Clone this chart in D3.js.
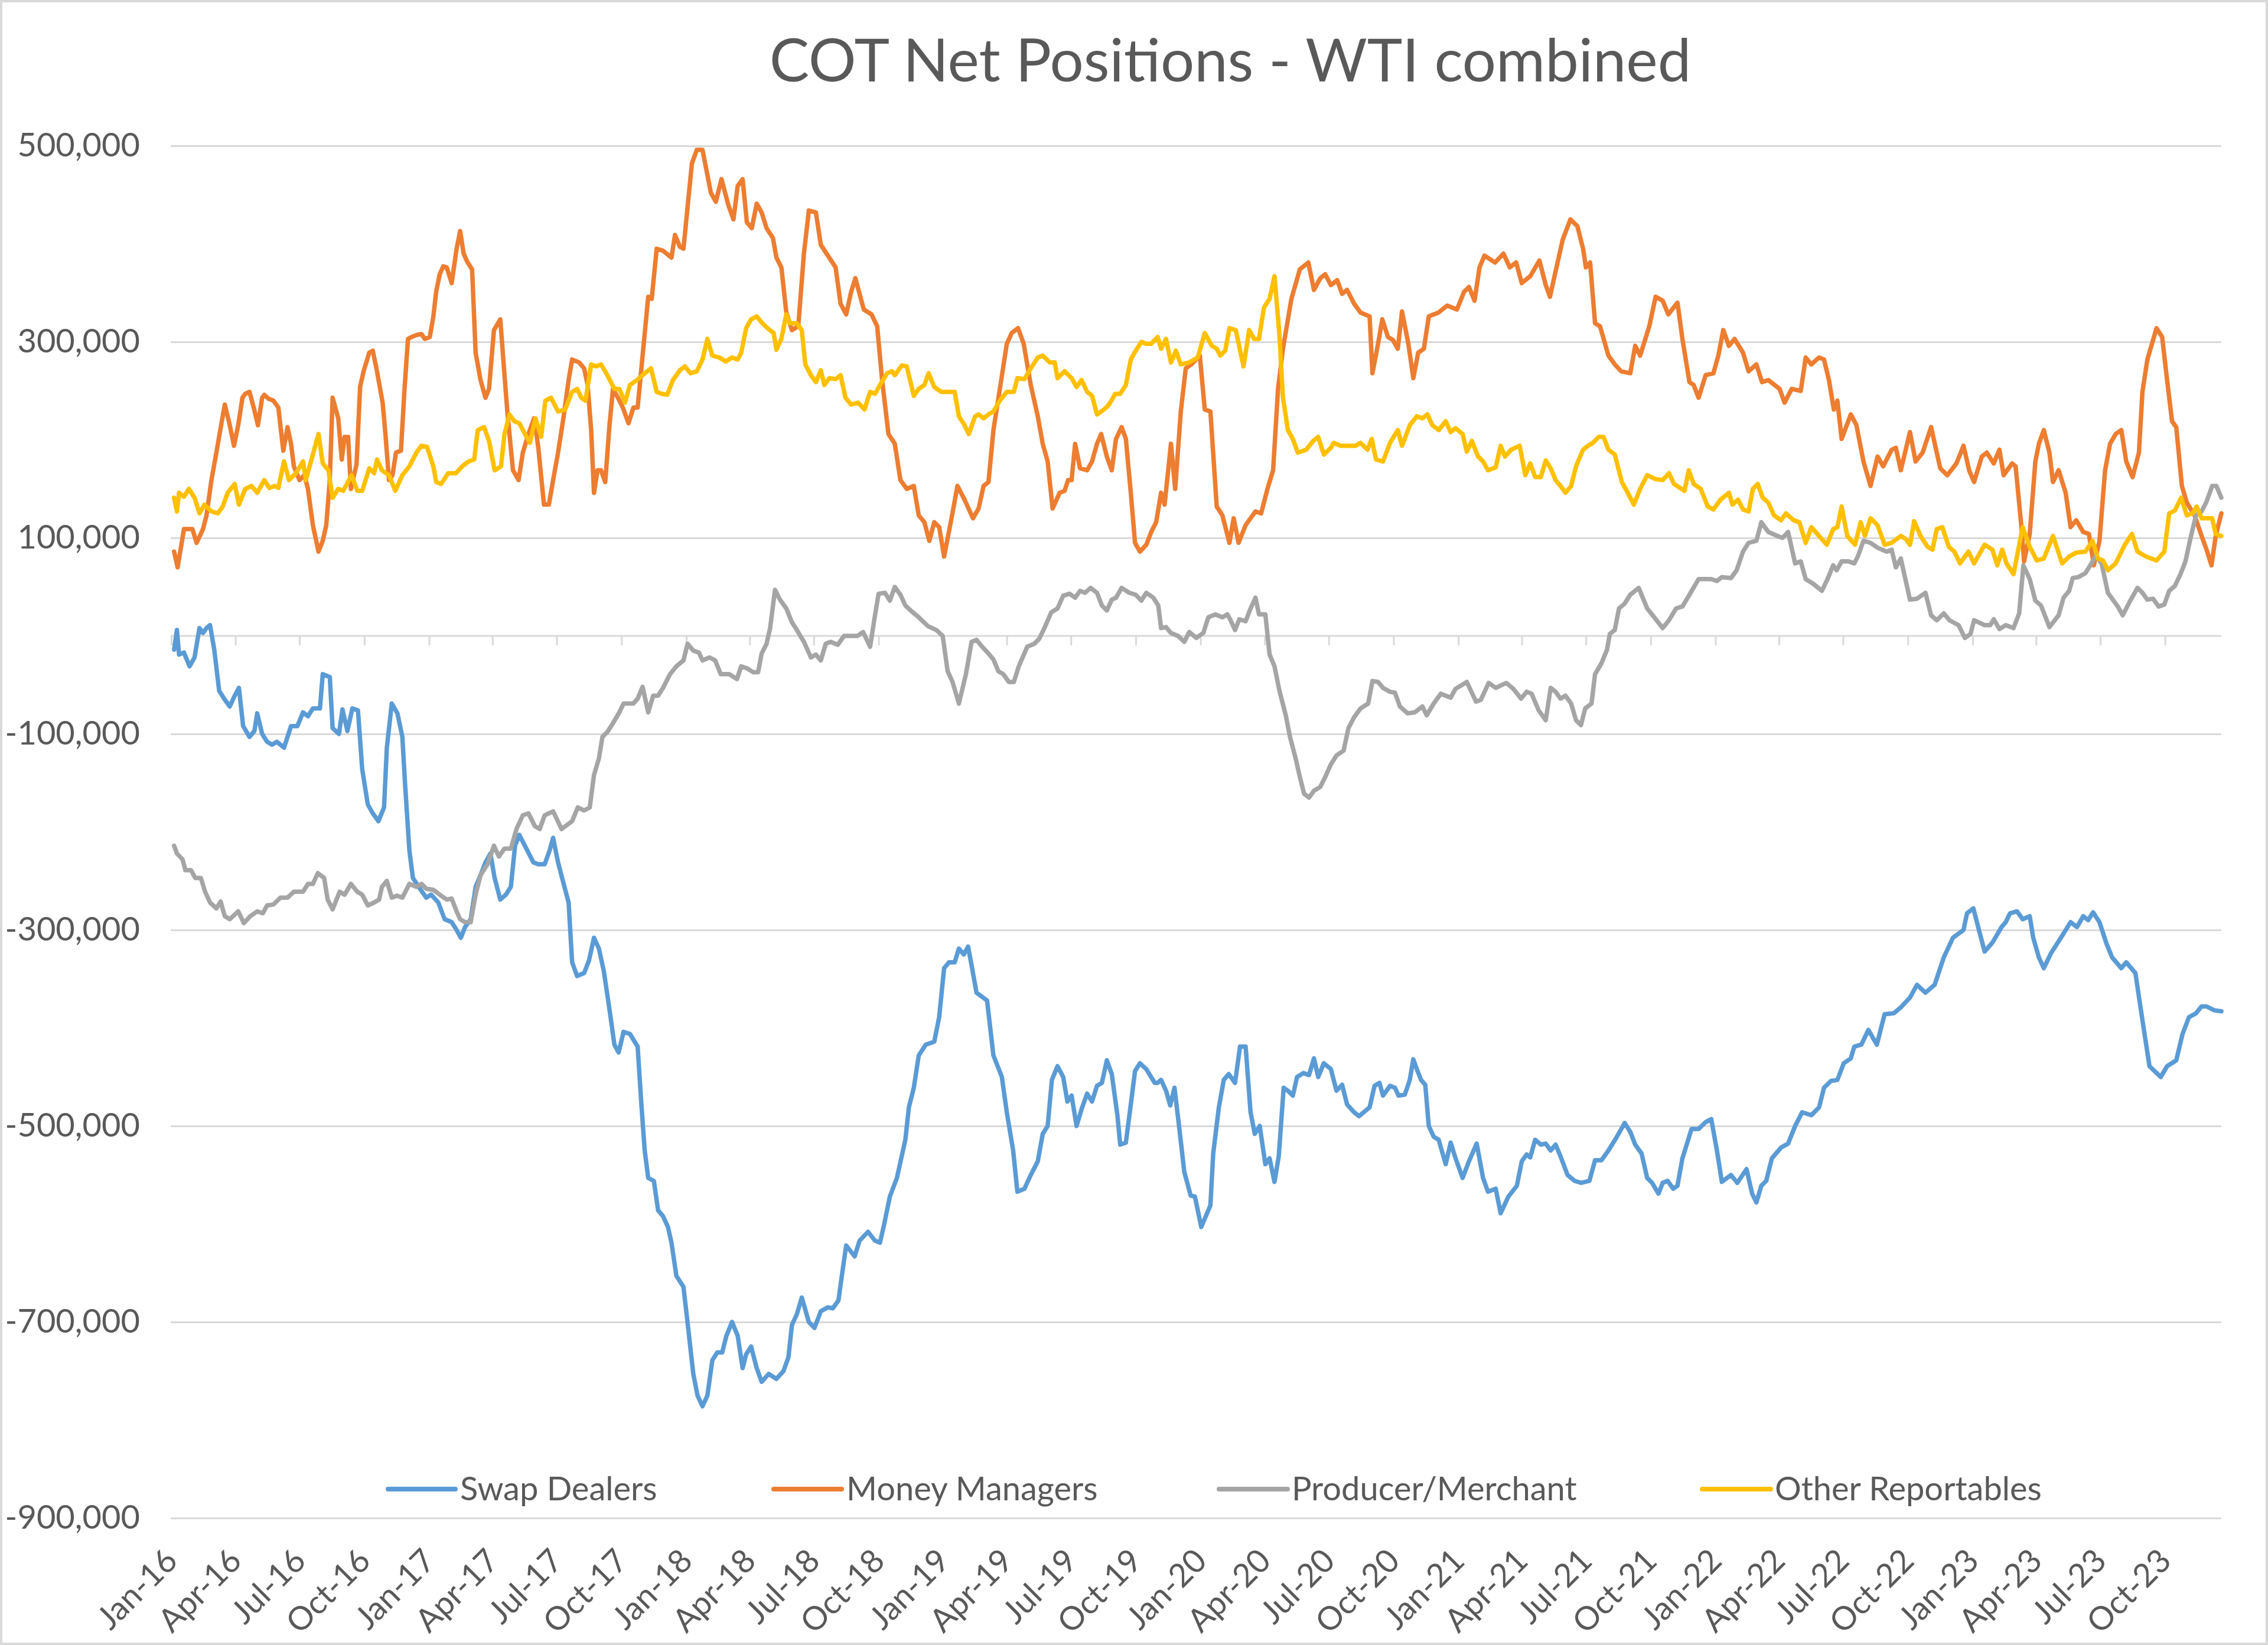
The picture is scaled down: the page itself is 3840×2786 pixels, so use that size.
<!DOCTYPE html>
<html>
<head>
<meta charset="utf-8">
<script src="https://cdn.jsdelivr.net/npm/d3@7"></script>
<style>
  html, body { margin: 0; padding: 0; background: #ffffff; }
  svg { display: block; }
  text { font-family: Lato, "Open Sans", "DejaVu Sans", sans-serif; }
</style>
</head>
<body>
<svg id="chart" width="3840" height="2786"></svg>
<script>
// ---------------- DATA ----------------
// Each point: [weeks since first report (5 Jan 2016), net position in thousands of contracts]
const chartTitle = "COT Net Positions - WTI combined";
const seriesNames = ["Swap Dealers", "Money Managers", "Producer/Merchant", "Other Reportables"];
const yTickValues = [500000, 300000, 100000, -100000, -300000, -500000, -700000, -900000];
const xTickFormat = "%b-%y";

const swapDealers = [
[0,-14],[0.6,6],[1.0,-19],[2.0,-17],[3.2,-31],[4.1,-22],[5.1,8],[5.8,3],[6.6,8],[7.3,11],[8.2,-14],[9.2,-56],[10.2,-64],[11.3,-72],[12.3,-61],[13.1,-53],[14.0,-92],[15.3,-103],[16.3,-97],[16.9,-79],[17.8,-100],[18.8,-108],[19.9,-111],[20.9,-108],[22.3,-114],[23.7,-92],[25.0,-92],[26.1,-78],[27.1,-82],[28.1,-74],[29.5,-74],[30.2,-39],[31.6,-42],[32.2,-94],[33.4,-100],[34.1,-75],[35.2,-97],[36.2,-74],[37.3,-76],[38.1,-136],[39.3,-172],[40.3,-181],[41.4,-189],[42.6,-175],[43.2,-114],[44.1,-69],[45.3,-79],[46.3,-103],[46.9,-153],[47.7,-219],[48.4,-247],[49.8,-258],[51.1,-267],[52.2,-264],[53.5,-272],[54.9,-289],[56.3,-292],[57.3,-300],[58.2,-308],[59.0,-297],[60.1,-289],[61.1,-256],[62.1,-244],[63.2,-231],[64.2,-222],[65.0,-247],[66.1,-269],[67.3,-264],[68.3,-256],[69.2,-214],[70.0,-203],[71.4,-217],[72.8,-231],[73.8,-233],[75.2,-233],[76.2,-219],[76.9,-206],[77.9,-231],[79.0,-253],[80.0,-272],[80.7,-333],[81.7,-347],[83.1,-344],[84.1,-331],[85.2,-308],[86.2,-319],[87.2,-342],[88.3,-381],[89.3,-417],[90.2,-425],[91.1,-404],[92.4,-406],
[94.0,-419],[94.7,-475],[95.4,-525],[96.2,-553],[97.3,-556],[98.1,-586],[99.2,-592],[100.2,-603],[100.9,-619],[101.9,-653],[103.3,-664],[104.3,-708],[105.3,-753],[106.2,-775],[107.2,-786],[108.1,-775],[109.1,-739],[110.2,-731],[111.2,-731],[112.0,-714],[113.2,-700],[114.3,-714],[115.3,-747],[116.0,-733],[117.0,-725],[118.1,-747],[119.1,-761],[120.5,-753],[122.2,-758],[123.6,-750],[124.6,-736],[125.3,-703],[126.3,-692],[127.3,-675],[128.7,-700],[129.9,-706],[131.1,-689],[132.5,-685],[133.5,-686],[134.7,-678],[135.6,-647],[136.3,-622],[138.0,-633],[139.0,-617],[140.7,-608],[142.1,-617],[143.1,-619],[144.0,-600],[145.2,-572],[146.6,-553],[148.3,-514],[149.0,-481],[150.0,-461],[151.0,-428],[152.4,-417],[154.1,-414],[155.2,-389],[156.2,-339],[157.2,-333],[158.3,-333],[159.2,-319],[160.1,-325],[161.0,-317],[161.7,-336],[162.7,-364],[164.8,-372],[166.2,-428],[167.9,-450],[168.9,-486],[170.2,-525],[171.0,-567],[172.4,-564],[173.7,-550],[175.1,-536],[176.1,-508],[177.2,-500],[178.0,-453],[179.1,-439],[180.3,-450],[181.1,-475],[182.0,-469],[183.0,-500],[184.2,-481],[185.1,-467],[186.1,-475],[187.1,-459],[188.2,-456],[189.2,-433],[190.1,-447],[191.3,-489],[191.9,-519],[193.0,-517],[194.0,-478],[194.9,-444],[195.9,-436],[197.1,-442],[198.8,-456],
[199.4,-456],[200.2,-453],[201.1,-464],[202.0,-479],[202.8,-461],[203.7,-497],[204.9,-547],[206.1,-571],[207.0,-572],[208.3,-603],[210.1,-581],[210.7,-528],[211.8,-481],[212.8,-453],[213.8,-447],[215.2,-456],[216.2,-419],[217.3,-419],[218.3,-486],[219.2,-508],[220.2,-500],[221.3,-539],[222.2,-533],[223.1,-557],[224.0,-531],[225.0,-461],[225.9,-464],[226.9,-469],[227.7,-450],[229.0,-446],[230.2,-448],[231.2,-431],[232.0,-450],[233.1,-436],[234.5,-442],[235.7,-464],[236.9,-458],[237.9,-478],[239.3,-486],[240.3,-490],[242.4,-481],[243.4,-459],[244.4,-456],[245.1,-469],[246.5,-459],[247.5,-461],[248.3,-469],[249.6,-468],[250.6,-453],[251.3,-432],[252.0,-442],[252.9,-453],[253.7,-458],[254.4,-500],[255.4,-511],[256.4,-514],[257.8,-539],[258.9,-517],[259.9,-533],[261.3,-553],[262.6,-536],[264.1,-518],[265.4,-553],[266.4,-567],[268.0,-564],[269.0,-589],[270.5,-572],[272.3,-561],[273.3,-536],[274.3,-529],[275.0,-532],[276.0,-514],[277.1,-519],[278.1,-518],[279.1,-525],[280.2,-519],[281.2,-531],[282.6,-550],[284.0,-556],[285.3,-558],[287.0,-556],[288.1,-535],[289.4,-535],[290.8,-525],[292.5,-511],[294.1,-497],[295.3,-506],[296.3,-519],[297.5,-528],[298.7,-553],[299.7,-558],[301.0,-569],[301.9,-558],[302.8,-556],[304.0,-564],
[304.8,-561],[305.9,-533],[307.7,-503],[309.2,-503],[310.6,-496],[311.7,-493],[312.8,-525],[313.9,-557],[315.7,-550],[317.0,-558],[318.9,-544],[320.0,-569],[320.9,-578],[321.9,-561],[322.9,-556],[324.0,-533],[325.8,-522],[327.3,-518],[328.7,-500],[330.2,-486],[332.0,-489],[333.5,-481],[334.6,-461],[336.0,-454],[337.3,-453],[338.5,-436],[340.0,-431],[340.7,-419],[342.2,-417],[343.6,-402],[345.3,-417],[346.9,-386],[348.7,-385],[350.2,-379],[352.0,-369],[353.4,-356],[355.2,-364],[357.0,-356],[358.9,-328],[360.7,-308],[362.9,-300],[363.6,-283],[364.9,-278],[366.1,-303],[367.2,-322],[368.7,-313],[370.5,-297],[371.4,-292],[372.3,-283],[373.7,-281],[374.8,-289],[376.3,-286],[377.0,-308],[378.1,-328],[379.2,-339],[380.6,-324],[382.8,-306],[384.6,-292],[385.9,-297],[387.2,-286],[388.1,-290],[389.1,-282],[390.4,-292],[391.9,-314],[393.0,-328],[394.8,-339],[395.9,-333],[397.7,-344],[399.1,-392],[400.6,-439],[402.8,-450],[404.2,-439],[406.0,-433],[407.3,-406],[408.6,-389],[410.0,-385],[411.1,-378],[412.2,-378],[413.7,-382],[415.1,-383]
];

const moneyManagers = [
[0,86],[0.7,70],[2.0,109],[3.7,109],[4.5,95],[5.8,109],[6.6,123],[7.5,159],[8.5,187],[9.6,216],[10.3,236],[11.3,215],[12.2,194],[13.0,215],[13.9,243],[14.4,247],[15.3,249],[16.1,233],[17.0,215],[17.8,243],[18.3,246],[19.2,242],[20.2,240],[21.2,233],[22.1,189],[23.0,213],[23.7,196],[24.3,173],[25.4,159],[26.4,164],[27.1,150],[28.1,113],[29.3,86],[30.2,97],[30.9,113],[31.6,159],[32.2,243],[33.3,222],[34.0,180],[34.6,203],[35.3,203],[35.8,150],[36.5,166],[37.0,175],[37.7,254],[38.4,270],[39.5,289],[40.3,291],[41.2,270],[42.3,238],[42.9,206],[43.6,159],[44.3,164],[45.0,187],[46.0,189],[46.7,251],[47.4,303],[48.1,305],[49.1,307],[50.1,308],[50.8,303],[51.8,305],[52.5,326],[53.1,351],[53.8,369],[54.6,377],[55.3,376],[56.3,360],[57.3,395],[58.0,413],[58.7,390],[59.4,382],[60.4,374],[61.1,289],[62.1,261],[63.2,243],[63.9,252],[64.9,312],[66.1,323],[67.0,266],[67.6,229],[68.7,169],[69.8,159],[70.7,187],[71.8,206],[73.0,222],[73.8,192],[75.0,134],[76.0,134],[76.9,159],[77.9,187],[79.0,224],[80.0,261],[80.7,282],[82.1,279],[83.1,273],[83.8,256],[84.5,210],[85.2,146],[85.9,169],[86.5,169],[87.4,157],[88.3,215],[89.0,252],[90.0,243],[91.0,233],[92.2,217],[93.1,233],
[94.0,233],[96.1,346],[96.9,344],[97.9,395],[99.2,393],[100.9,386],[101.6,409],[102.6,397],[103.3,395],[105.0,482],[106.0,496],[107.1,496],[108.8,452],[109.9,443],[111.0,466],[112.4,439],[113.4,425],[114.3,459],[115.3,466],[116.1,422],[117.2,416],[118.1,441],[119.1,432],[120.1,416],[121.4,406],[122.2,386],[123.2,376],[124.2,330],[125.3,312],[126.6,316],[127.7,390],[128.7,434],[130.1,432],[131.1,399],[132.5,388],[134.2,376],[135.2,339],[136.3,328],[137.3,351],[138.1,365],[139.9,333],[141.4,328],[142.5,316],[143.5,261],[144.9,206],[146.2,196],[147.3,159],[148.6,150],[150.0,153],[151.0,123],[152.1,116],[153.1,97],[154.1,116],[155.2,111],[156.2,81],[157.6,118],[158.9,153],[160.3,139],[162.0,120],[163.1,130],[164.1,153],[165.1,157],[166.2,210],[167.5,256],[168.9,298],[169.9,309],[171.1,314],[172.3,298],[173.7,256],[175.1,224],[176.1,196],[177.2,178],[178.2,130],[179.6,146],[180.5,148],[181.3,159],[182.0,159],[182.7,196],[183.7,171],[185.1,169],[186.1,178],[187.1,196],[188.0,206],[189.2,183],[190.2,169],[191.0,201],[192.1,213],[193.0,201],[194.0,146],[194.9,95],[195.9,86],[197.1,93],[198.1,106],[199.2,116],
[200.1,146],[200.8,134],[202.1,196],[203.0,150],[204.2,229],[205.2,273],[206.3,277],[208.0,286],[209.0,231],[210.1,229],[211.4,132],[212.5,123],[214.0,95],[214.9,120],[215.9,95],[217.3,113],[219.3,127],[220.4,125],[221.7,150],[222.8,169],[223.8,252],[224.8,293],[226.5,344],[228.3,374],[230.0,381],[231.2,353],[232.4,365],[233.4,369],[234.5,358],[235.8,363],[236.9,349],[237.9,353],[239.3,339],[240.6,330],[242.4,326],[243.0,268],[244.1,298],[245.0,323],[246.1,305],[247.2,302],[248.2,293],[249.0,331],[250.3,298],[251.3,263],[252.3,289],[253.4,293],[254.4,326],[256.4,330],[258.2,337],[260.2,333],[261.6,351],[262.6,356],[263.7,342],[264.7,376],[265.7,388],[267.8,381],[269.5,390],[270.9,376],[272.2,381],[273.3,360],[275.0,367],[276.9,383],[278.1,358],[279.0,346],[280.2,372],[281.5,404],[283.1,425],[284.6,418],[285.7,395],[286.3,376],[287.2,381],[288.1,319],[289.1,316],[290.8,286],[292.2,277],[293.4,270],[295.3,268],[296.3,296],[297.3,286],[299.1,316],[300.4,346],[301.8,342],[303.0,328],
[304.8,340],[305.9,303],[307.3,259],[308.1,256],[309.2,243],[310.6,266],[312.1,268],[313.1,286],[314.2,312],[315.3,296],[316.4,303],[318.2,289],[319.3,270],[320.8,277],[322.0,259],[323.3,261],[325.5,252],[326.6,238],[328.0,252],[329.8,250],[330.9,284],[332.0,277],[333.5,284],[334.6,282],[335.6,261],[336.5,231],[337.3,240],[338.2,201],[340.0,226],[341.1,215],[342.5,178],[344.0,153],[345.4,183],[346.5,173],[348.3,190],[349.2,192],[350.2,169],[352.0,208],[353.1,178],[354.5,187],[356.3,213],[358.1,171],[359.6,164],[361.4,176],[362.9,194],[364.0,169],[365.0,157],[366.5,183],[367.6,187],[369.0,176],[370.1,190],[371.0,164],[372.7,176],[373.4,173],[374.5,113],[375.2,76],[376.3,104],[377.4,178],[378.2,196],[379.2,210],[380.3,187],[381.0,157],[382.1,169],[383.5,146],[384.6,111],[385.7,118],[387.2,106],[388.3,104],[389.3,72],[390.4,97],[391.5,169],[392.6,196],[393.7,206],[394.8,210],[395.9,178],[397.1,162],[398.4,187],[399.1,249],[400.2,282],[402.0,314],[403.1,305],[404.2,261],[405.1,219],[406.0,213],[407.1,153],[408.2,136],[409.7,123],[411.1,102],[412.2,88],[413.1,72],[414.0,102],[415.1,125]
];

const producerMerchant = [
[0,-214],[0.5,-222],[1.7,-228],[2.3,-239],[3.4,-239],[4.3,-247],[5.4,-247],[6.3,-261],[7.3,-272],[8.5,-278],[9.4,-271],[10.3,-286],[11.3,-289],[13.0,-281],[14.2,-293],[15.4,-286],[16.8,-281],[18.0,-283],[18.8,-275],[20.2,-274],[21.6,-267],[23.0,-267],[24.3,-261],[26.1,-261],[27.1,-253],[28.1,-253],[29.1,-242],[30.4,-247],[31.2,-269],[32.2,-279],[33.6,-261],[34.6,-264],[35.9,-253],[37.1,-261],[38.1,-264],[39.3,-275],[40.5,-272],[41.5,-269],[42.1,-256],[43.2,-250],[44.1,-267],[45.1,-265],[46.3,-267],[47.7,-253],[49.1,-256],[50.1,-253],[51.1,-258],[52.5,-259],[53.9,-264],[55.3,-269],[56.3,-268],[57.3,-281],[58.0,-289],[59.0,-292],[60.2,-292],[61.1,-264],[62.1,-244],[63.5,-233],[64.9,-214],[65.9,-225],[67.0,-217],[68.3,-217],[69.4,-197],[70.7,-183],[71.8,-181],[73.1,-194],[74.2,-197],[75.2,-183],[76.9,-179],[78.6,-197],[80.7,-189],[81.9,-175],[83.1,-178],[84.3,-175],[85.2,-142],[86.2,-125],[86.9,-103],[87.9,-98],[89.0,-89],[90.3,-78],[91.1,-69],[92.4,-69],[93.1,-69],
[94.0,-64],[95.0,-52],[96.1,-78],[97.1,-61],[98.1,-61],[99.2,-53],[100.5,-39],[101.9,-31],[103.3,-25],[104.2,-8],[105.3,-15],[106.4,-17],[107.2,-25],[108.6,-22],[109.7,-25],[110.8,-39],[112.6,-39],[114.1,-44],[115.0,-31],[116.1,-33],[117.4,-37],[118.4,-37],[119.1,-18],[120.1,-8],[120.8,8],[121.8,47],[122.9,37],[124.2,28],[125.3,14],[126.3,6],[127.7,-6],[129.1,-22],[130.1,-19],[131.1,-25],[132.1,-8],[133.2,-6],[134.5,-9],[135.9,0],[137.3,0],[138.5,0],[139.7,4],[141.1,-11],[142.0,17],[142.9,43],[144.2,44],[145.2,36],[146.2,50],[147.3,42],[148.3,31],[149.5,25],[151.0,19],[152.8,10],[154.5,6],[155.9,0],[156.9,-36],[157.9,-47],[159.2,-69],[160.5,-39],[161.7,-6],[162.7,-4],[163.8,-11],[165.1,-18],[166.2,-24],[167.2,-36],[168.2,-39],[169.3,-47],[170.3,-47],[171.3,-31],[173.0,-11],[174.4,-8],[175.4,-3],[176.5,9],[177.8,24],[179.2,28],[180.3,41],[181.6,43],[182.7,39],[183.7,46],[184.7,44],[185.8,49],[187.1,44],[188.2,31],[189.2,26],[190.1,37],[191.0,39],[192.1,49],[193.7,44],[195.0,42],[196.1,36],[197.1,44],[198.5,39],[199.5,31],
[200.1,8],[201.1,9],[202.1,3],[203.5,0],[204.9,-6],[205.9,4],[207.3,-2],[208.7,3],[209.7,19],[211.1,22],[212.5,19],[213.5,22],[214.2,17],[215.1,6],[216.0,17],[217.3,15],[218.3,28],[219.3,39],[220.0,22],[221.3,22],[222.1,-19],[223.1,-31],[224.1,-56],[225.4,-81],[226.3,-103],[227.4,-125],[228.3,-144],[229.1,-161],[230.1,-165],[231.2,-158],[232.4,-154],[233.4,-144],[234.5,-131],[235.7,-122],[237.1,-117],[238.2,-94],[239.3,-83],[240.6,-74],[242.2,-69],[243.0,-46],[244.1,-47],[245.1,-53],[246.5,-57],[247.5,-58],[248.5,-72],[250.1,-79],[251.6,-78],[253.1,-72],[254.0,-81],[255.4,-69],[256.8,-59],[257.8,-61],[258.9,-63],[259.9,-54],[262.1,-47],[264.0,-67],[265.0,-65],[266.6,-48],[268.0,-53],[270.2,-48],[271.6,-54],[273.1,-64],[274.3,-57],[275.3,-59],[276.7,-76],[278.1,-86],[279.1,-53],[280.2,-57],[281.2,-64],[282.2,-61],[283.3,-69],[284.3,-86],[285.3,-91],[286.1,-74],[287.4,-69],[288.1,-39],[289.4,-28],[290.5,-14],[291.2,2],[292.2,6],[293.0,28],[294.2,33],[295.3,42],[297.0,49],[298.7,28],[300.1,19],[301.8,8],[303.2,16],[304.6,28],
[305.9,30],[307.3,42],[309.2,58],[311.7,58],[312.8,56],[313.9,60],[315.7,59],[316.8,67],[318.2,86],[319.3,95],[320.8,97],[321.9,116],[323.3,106],[325.1,102],[326.2,100],[327.3,106],[328.7,74],[329.8,76],[330.9,58],[332.4,53],[334.2,46],[335.3,58],[336.4,72],[337.1,67],[338.2,76],[339.6,76],[340.7,74],[341.4,81],[342.5,97],[344.0,95],[345.4,90],[347.3,86],[348.3,88],[349.1,70],[350.2,79],[352.0,37],[353.4,38],[355.2,44],[356.3,21],[357.4,16],[358.9,23],[360.0,16],[361.8,11],[363.2,-2],[364.3,2],[365.0,16],[367.2,11],[368.3,11],[369.0,17],[370.1,7],[371.4,11],[373.0,8],[374.1,23],[375.0,72],[376.3,58],[377.4,36],[378.5,31],[380.3,9],[382.1,21],[383.2,39],[384.3,46],[385.0,59],[386.1,60],[387.5,64],[388.6,72],[389.7,82],[390.8,74],[392.2,44],[394.1,30],[395.1,21],[396.6,35],[398.1,49],[399.1,44],[400.2,37],[401.3,38],[402.4,30],[403.5,32],[404.6,46],[405.7,51],[406.8,63],[407.8,76],[408.9,99],[410.0,123],[411.1,127],[412.2,137],[413.3,153],[414.2,153],[415.1,141]
];

const otherReportables = [
[0,141],[0.5,127],[1.0,146],[2.0,142],[3.0,150],[4.1,141],[5.1,125],[6.1,134],[7.5,127],[8.9,125],[9.9,132],[10.9,146],[12.3,155],[13.2,134],[14.4,150],[15.7,153],[16.9,146],[18.3,159],[19.3,151],[20.4,153],[21.2,151],[22.3,178],[23.3,159],[24.7,166],[26.1,178],[26.7,159],[27.9,180],[29.3,206],[30.2,176],[31.3,169],[32.2,141],[33.3,150],[34.3,148],[36.0,164],[37.1,148],[38.1,148],[39.5,171],[40.5,166],[41.2,180],[42.2,169],[43.6,164],[44.8,148],[46.3,164],[47.7,173],[49.1,187],[50.1,194],[51.3,193],[52.5,173],[53.2,157],[54.2,155],[55.6,166],[57.2,166],[58.4,173],[59.7,178],[60.8,180],[61.5,210],[62.8,213],[63.9,199],[65.0,169],[66.3,173],[67.0,206],[68.0,226],[69.0,219],[70.0,217],[71.1,206],[72.1,197],[73.3,222],[74.4,203],[75.3,240],[76.4,243],[77.9,229],[79.3,231],[80.7,249],[81.7,252],[82.6,243],[83.4,240],[84.5,277],[85.5,275],[86.5,277],[87.9,266],[89.3,252],[90.3,252],[91.4,238],[92.4,256],[93.8,261],
[95.4,268],[96.7,273],[97.8,249],[98.8,247],[100.0,246],[101.2,261],[102.6,271],[103.6,275],[104.7,268],[106.0,270],[107.2,282],[108.1,303],[109.1,286],[110.5,284],[111.9,280],[113.2,284],[114.3,282],[115.0,289],[116.0,314],[117.0,323],[118.1,326],[119.3,319],[120.5,313],[121.5,309],[122.2,292],[123.2,303],[124.1,328],[124.9,319],[126.3,319],[127.3,312],[128.0,277],[129.1,266],[130.1,259],[131.1,271],[131.8,256],[132.8,263],[134.2,262],[135.2,266],[136.1,243],[137.3,236],[138.7,238],[140.0,231],[141.1,249],[142.1,247],[143.1,256],[144.5,268],[145.5,270],[146.2,266],[147.6,276],[148.6,275],[150.0,245],[151.0,252],[152.1,256],[153.0,268],[154.1,254],[155.5,249],[156.9,249],[158.3,249],[159.2,224],[160.3,215],[161.2,206],[162.4,224],[163.1,226],[164.1,222],[165.1,226],[166.2,229],[167.4,240],[168.9,249],[170.3,249],[171.0,263],[172.4,262],[173.7,273],[175.1,284],[176.1,286],[177.5,279],[178.5,279],[179.2,263],[180.6,270],[182.0,263],[183.0,254],[184.0,261],[185.1,249],[186.1,245],[187.1,226],[188.5,231],[189.5,236],[190.9,247],[191.9,247],[193.0,256],[194.0,282],[195.0,291],[196.1,300],[197.1,298],[198.1,298],
[199.4,305],[200.1,293],[201.1,303],[202.1,279],[203.2,291],[204.2,277],[205.9,279],[207.6,284],[209.0,309],[210.4,296],[211.4,293],[212.1,286],[213.1,291],[214.0,314],[215.3,312],[216.9,275],[218.0,312],[219.0,303],[220.0,303],[221.0,335],[222.1,344],[223.1,367],[224.1,307],[224.8,243],[225.9,210],[226.9,201],[227.9,187],[229.6,190],[231.0,199],[232.0,203],[233.1,185],[234.5,192],[235.1,197],[236.5,194],[237.9,194],[239.6,194],[240.6,197],[242.0,190],[242.8,201],[243.7,180],[245.1,178],[246.5,197],[248.1,210],[249.0,194],[250.6,215],[252.0,224],[253.1,222],[254.2,226],[255.1,215],[256.4,210],[257.8,219],[258.9,208],[259.9,212],[261.3,206],[262.1,188],[263.2,199],[264.4,183],[265.4,178],[266.4,169],[268.0,172],[269.0,194],[269.8,183],[271.2,190],[272.9,194],[274.0,164],[275.0,176],[276.0,162],[277.1,162],[278.1,179],[279.1,171],[280.2,159],[281.2,153],[282.2,146],[283.3,153],[284.3,173],[285.7,190],[286.7,194],[287.7,197],[288.8,203],[289.8,203],[290.8,190],[292.2,185],[293.6,157],[294.6,148],[296.0,134],[297.3,150],[298.7,164],[300.4,160],[301.8,159],[303.2,166],[304.2,155],
[306.3,148],[307.1,169],[308.1,155],[309.5,150],[311.0,132],[312.1,129],[313.5,139],[315.3,146],[316.0,134],[317.1,139],[318.2,129],[319.3,127],[320.2,150],[321.1,155],[322.2,141],[323.3,136],[324.4,123],[325.8,118],[326.9,125],[328.4,118],[329.5,116],[330.8,95],[332.0,111],[333.5,102],[335.1,93],[336.4,109],[337.3,111],[338.2,132],[339.3,102],[340.9,93],[342.0,116],[342.9,102],[344.0,120],[345.4,113],[346.9,93],[348.3,95],[350.2,102],[351.2,99],[352.0,93],[352.8,117],[354.1,102],[355.6,91],[356.5,88],[357.4,109],[358.5,111],[359.9,91],[361.0,86],[362.1,74],[363.9,86],[365.0,74],[367.2,93],[368.7,88],[369.7,72],[370.7,88],[371.6,74],[373.0,63],[374.8,111],[376.3,91],[377.7,77],[379.2,79],[381.0,102],[382.8,74],[384.3,81],[385.7,85],[387.5,86],[389.0,97],[390.1,79],[391.2,77],[392.2,67],[393.7,74],[395.5,93],[397.0,104],[398.1,86],[399.9,81],[402.0,77],[403.5,86],[404.6,125],[405.7,128],[407.0,141],[408.2,123],[409.3,125],[410.2,132],[411.1,120],[413.3,120],[414.0,104],[415.1,102]
];

const seriesColors = ["#5B9BD5", "#ED7D31", "#A5A5A5", "#FFC000"];

// ---------------- CHART ----------------
const W = 3840, H = 2786;
const svg = d3.select("#chart");
const firstReport = new Date(2016, 0, 5);
const toDate = w => d3.timeDay.offset(firstReport, Math.round(w * 7));

const x = d3.scaleTime()
  .domain([new Date(2016, 0, 1), new Date(2023, 11, 20)])
  .range([290, 3761]);
const y = d3.scaleLinear()
  .domain([-900000, 500000])
  .range([2571, 247]);

const textColor = "#595959";
const gridColor = "#D9D9D9";

svg.append("rect").attr("x", 0).attr("y", 0).attr("width", W).attr("height", H).attr("fill", "#ffffff");
svg.append("rect").attr("x", 2).attr("y", 2).attr("width", W - 4).attr("height", H - 4)
  .attr("fill", "none").attr("stroke", "#D9D9D9").attr("stroke-width", 4);

// Title
svg.append("text")
  .attr("x", 2083).attr("y", 138)
  .attr("text-anchor", "middle")
  .attr("font-size", 101)
  .attr("fill", textColor)
  .text(chartTitle);

// Gridlines + y labels
const fmt = v => d3.format(",")(v).replace("\u2212", "-");
const yAxis = d3.axisLeft(y).tickValues(yTickValues).tickSize(-(3761 - 289)).tickFormat(fmt).tickPadding(52);
const gy = svg.append("g").attr("transform", "translate(289,0)").call(yAxis);
gy.select(".domain").remove();
gy.selectAll(".tick line").attr("stroke", gridColor).attr("stroke-width", 3);
gy.selectAll(".tick text")
  .attr("font-family", "Lato, 'Open Sans', sans-serif")
  .attr("font-size", 56)
  .attr("fill", textColor);

// Horizontal category axis at zero with tick marks
const quarterTicks = d3.timeMonth.every(3).range(new Date(2016, 0, 1), new Date(2023, 11, 1));
const xAxis = d3.axisBottom(x).tickValues(quarterTicks).tickSize(16).tickFormat("");
const gx = svg.append("g").attr("transform", `translate(0,${y(0)})`).call(xAxis);
gx.select(".domain").attr("stroke", gridColor).attr("stroke-width", 3)
  .attr("d", `M289,0H3761`);
gx.selectAll(".tick line").attr("stroke", gridColor).attr("stroke-width", 3);

// X labels at the bottom (rotated)
const labelFmt = d3.timeFormat(xTickFormat);
svg.append("g").selectAll("text")
  .data(quarterTicks)
  .join("text")
  .attr("transform", d => `translate(${x(d)},2633) rotate(-45)`)
  .attr("text-anchor", "end")
  .attr("dy", "0.35em")
  .attr("font-size", 55)
  .attr("fill", textColor)
  .text(d => labelFmt(d));

// Lines
const allSeries = [swapDealers, moneyManagers, producerMerchant, otherReportables];
const line = d3.line()
  .x(d => x(toDate(d[0])))
  .y(d => y(d[1] * 1000));
svg.append("g").selectAll("path")
  .data(allSeries)
  .join("path")
  .attr("d", d => line(d))
  .attr("fill", "none")
  .attr("stroke", (d, i) => seriesColors[i])
  .attr("stroke-width", 7.5)
  .attr("stroke-linejoin", "round")
  .attr("stroke-linecap", "round");

// Legend
const legendPos = [{x0: 657, x1: 771, tx: 779}, {x0: 1310, x1: 1425, tx: 1433},
                   {x0: 2064, x1: 2180, tx: 2187}, {x0: 2882, x1: 2998, tx: 3005}];
const lg = svg.append("g");
seriesNames.forEach((name, i) => {
  const p = legendPos[i];
  lg.append("line").attr("x1", p.x0).attr("x2", p.x1).attr("y1", 2522).attr("y2", 2522)
    .attr("stroke", seriesColors[i]).attr("stroke-width", 8).attr("stroke-linecap", "round");
  lg.append("text").attr("x", p.tx).attr("y", 2541)
    .attr("font-size", 56).attr("fill", textColor).text(name);
});
</script>
</body>
</html>
